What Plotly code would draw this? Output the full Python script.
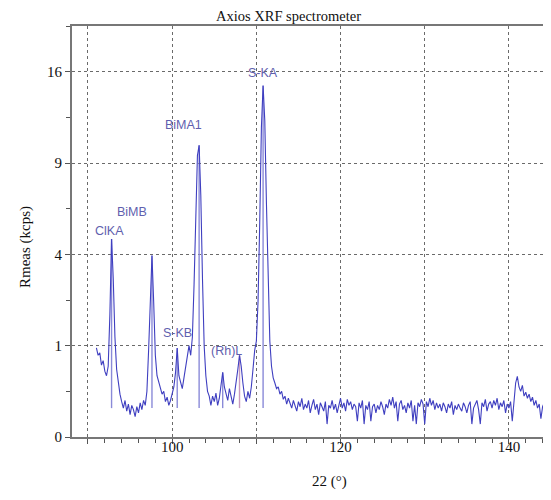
import numpy as np
import plotly.graph_objects as go

# ---- data -------------------------------------------------------------
TWO_THETA_START = 91.0   # degrees
TWO_THETA_STEP = 0.2     # degrees per scan step

# measured rate (kcps), one row = 2 degrees (10 steps)
rmeas = [
    0.95, 0.80, 0.85, 0.62, 0.70, 0.52, 0.45, 0.60, 1.8, 4.7,      # 91
    3.0, 1.2, 0.55, 0.35, 0.22, 0.15, 0.10, 0.16, 0.08, 0.13,      # 93
    0.06, 0.12, 0.09, 0.05, 0.11, 0.07, 0.14, 0.09, 0.16, 0.12,    # 95
    0.25, 0.9, 2.6, 3.95, 2.2, 0.8, 0.45, 0.35, 0.28, 0.22,        # 97
    0.25, 0.15, 0.19, 0.12, 0.16, 0.22, 0.3, 0.5, 0.95, 0.45,      # 99
    0.35, 0.28, 0.42, 0.6, 0.85, 1.0, 0.8, 1.2, 2.8, 6.5,          # 101
    9.5, 10.2, 7.0, 3.0, 1.0, 0.45, 0.25, 0.2, 0.12, 0.2,          # 103
    0.15, 0.23, 0.12, 0.18, 0.35, 0.5, 0.3, 0.22, 0.16, 0.28,      # 105
    0.18, 0.13, 0.22, 0.35, 0.55, 0.8, 0.6, 0.35, 0.2, 0.15,       # 107
    0.25, 0.18, 0.3, 0.55, 0.9, 1.1, 2.2, 5.5, 11.5, 14.8,         # 109
    12.0, 6.5, 2.6, 1.1, 0.6, 0.42, 0.35, 0.28, 0.3, 0.22,         # 111
    0.25, 0.17, 0.2, 0.13, 0.18, 0.14, 0.10, 0.16, 0.12, 0.08,     # 113
    0.15, 0.11, 0.18, 0.09, 0.13, 0.10, 0.16, 0.07, 0.12, 0.17,    # 115
    0.09, 0.13, 0.06, 0.14, 0.11, 0.08, 0.15, 0.02, 0.12, 0.10,    # 117
    0.16, 0.09, 0.13, 0.07, 0.12, 0.18, 0.10, 0.14, 0.08, 0.17,    # 119
    0.12, 0.15, 0.09, 0.13, 0.11, 0.03, 0.14, 0.10, 0.16, 0.02,    # 121
    0.12, 0.09, 0.15, 0.03, 0.11, 0.13, 0.07, 0.12, 0.09, 0.15,    # 123
    0.11, 0.06, 0.13, 0.10, 0.17, 0.12, 0.19, 0.10, 0.15, 0.03,    # 125
    0.13, 0.16, 0.09, 0.12, 0.07, 0.14, 0.10, 0.16, 0.03, 0.12,    # 127
    0.02, 0.14, 0.11, 0.17, 0.13, 0.02, 0.15, 0.11, 0.18, 0.12,    # 129
    0.16, 0.09, 0.14, 0.10, 0.13, 0.08, 0.14, 0.11, 0.07, 0.13,    # 131
    0.10, 0.15, 0.06, 0.12, 0.09, 0.13, 0.10, 0.08, 0.14, 0.11,    # 133
    0.07, 0.12, 0.15, 0.02, 0.10, 0.13, 0.16, 0.09, 0.02, 0.14,    # 135
    0.11, 0.17, 0.08, 0.13, 0.15, 0.10, 0.16, 0.12, 0.18, 0.09,    # 137
    0.14, 0.11, 0.16, 0.07, 0.13, 0.10, 0.15, 0.03, 0.12, 0.35,    # 139
    0.44, 0.30, 0.25, 0.32, 0.20, 0.24, 0.18, 0.22, 0.15, 0.19,    # 141
    0.12, 0.16, 0.10, 0.13, 0.04, 0.11, 0.14, 0.09, 0.12, 0.10,    # 143
    0.13,                                                          # 145
]

# peak identification markers (2theta, top in kcps)
marker_pos = [92.8, 97.6, 100.6, 103.2, 106.0, 108.0, 110.8]
marker_top = [4.7, 3.95, 0.95, 10.2, 0.5, 0.8, 14.8]
marker_base = 0.1

# peak labels (text, 2theta, kcps)
label_text = ["ClKA", "BiMB", "S-KB", "BiMA1", "(Rh)L", "S-KA"]
label_x = [92.6, 95.2, 100.6, 101.4, 106.4, 110.8]
label_y = [5.1, 6.05, 1.3, 11.7, 0.88, 15.85]

y_tick_vals = [0, 1, 4, 9, 16]
x_tick_vals = [90, 100, 110, 120, 130, 140]
x_tick_text = ["", "100", "", "120", "", "140"]

# ---- figure -----------------------------------------------------------
two_theta = TWO_THETA_START + TWO_THETA_STEP * np.arange(len(rmeas))
sq = np.sqrt  # square-root intensity scale

fig = go.Figure()

# marker lines
for px, top in zip(marker_pos, marker_top):
    col = "#c89ac0" if abs(px - 108.0) < 0.01 else "#8a8ad8"
    fig.add_trace(go.Scatter(
        x=[px, px], y=[sq(marker_base), sq(top)], mode="lines",
        line=dict(color=col, width=1.4), showlegend=False, hoverinfo="skip"))

fig.add_trace(go.Scatter(
    x=two_theta, y=sq(np.array(rmeas)), mode="lines",
    line=dict(color="#3f3fc0", width=1.1), showlegend=False))

for t, lx, ly in zip(label_text, label_x, label_y):
    fig.add_annotation(x=lx, y=sq(ly), text=t, showarrow=False,
                       font=dict(family="Liberation Sans, Arial", size=12.5,
                                 color="#5f5fae"))

serif = "Liberation Serif, Times New Roman, serif"

fig.add_annotation(xref="paper", yref="paper", x=(288 - 72) / (551 - 72),
                   y=1, yanchor="middle", yshift=10, text="Axios XRF spectrometer",
                   showarrow=False, font=dict(family=serif, size=14.5, color="#111"))
fig.add_annotation(xref="paper", yref="paper", x=(329 - 72) / (551 - 72),
                   y=0, yanchor="middle", yshift=-44, text="22 (°)", showarrow=False,
                   font=dict(family=serif, size=15, color="#111"))
fig.add_annotation(xref="paper", yref="paper", x=0, xanchor="center", xshift=-47,
                   y=(437 - 247) / (437 - 26), yanchor="middle", text="Rmeas (kcps)",
                   textangle=-90, showarrow=False,
                   font=dict(family=serif, size=15, color="#111"))

grid = dict(showgrid=True, gridcolor="#6a6a6a", griddash="dot", gridwidth=1)

fig.update_xaxes(range=[88.1, 145.0], tickvals=x_tick_vals, ticktext=x_tick_text,
                 ticks="outside", ticklen=5, tickcolor="#555",
                 ticklabelstandoff=-10,
                 showline=True, linecolor="#777", linewidth=1.5, mirror=True,
                 minor=dict(dtick=2, ticks="outside", ticklen=4, tickcolor="#555",
                            showgrid=False),
                 tickfont=dict(family=serif, size=15, color="#111"),
                 zeroline=False, **grid)
fig.update_yaxes(range=[0, 4.5], tickvals=[sq(v) for v in y_tick_vals],
                 ticktext=[str(v) for v in y_tick_vals],
                 ticks="outside", ticklen=5, tickcolor="#555",
                 showline=True, linecolor="#777", linewidth=2,
                 minor=dict(dtick=0.5, ticks="outside", ticklen=4, tickcolor="#555",
                            showgrid=False),
                 tickfont=dict(family=serif, size=15, color="#111"),
                 zeroline=False, **grid)

# the page body adds an 8px offset, so the figure is 8px smaller
fig.update_layout(width=543, height=492,
                  margin=dict(l=64, r=0, t=18, b=63),
                  paper_bgcolor="white", plot_bgcolor="white",
                  showlegend=False)

fig.write_html("out.html")
